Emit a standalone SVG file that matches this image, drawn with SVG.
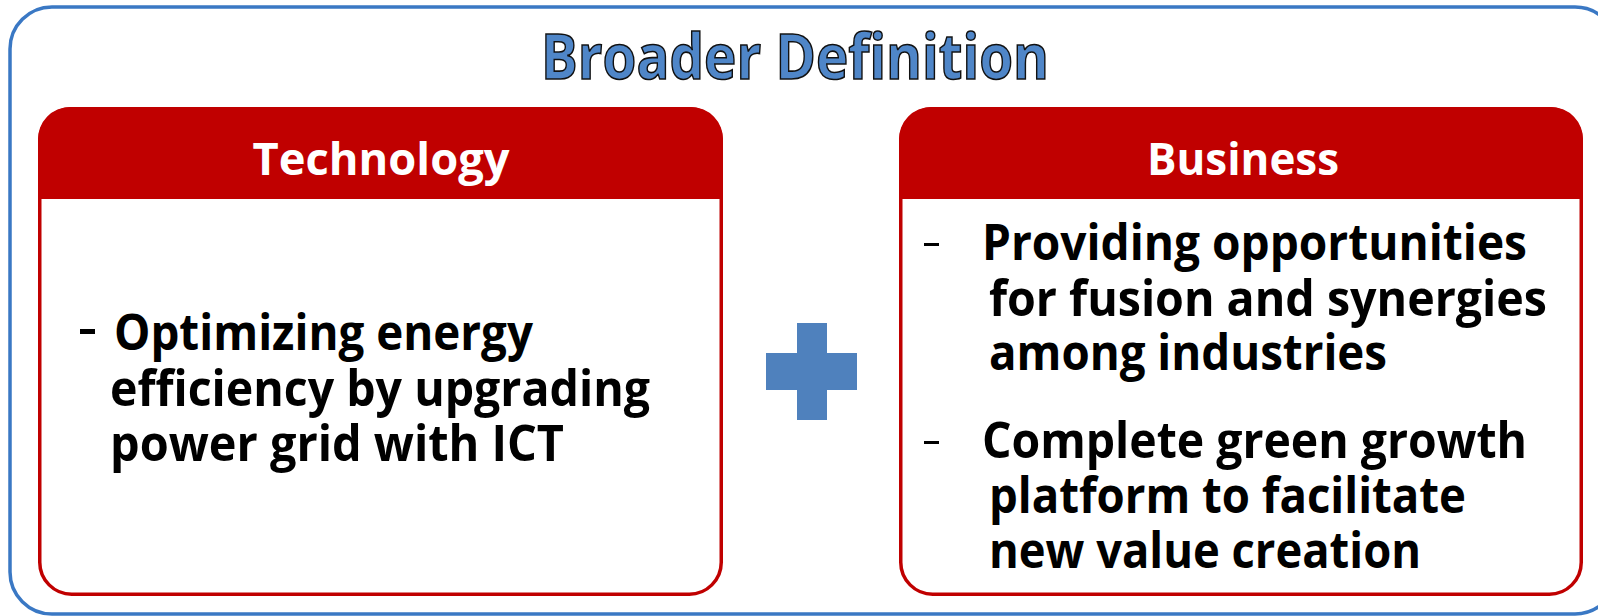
<svg xmlns="http://www.w3.org/2000/svg" width="1598" height="616" viewBox="0 0 1598 616">
<style>
.outer{fill:#ffffff;stroke:#3a78c4;stroke-width:3.5}
.box{fill:#ffffff;stroke:#c00000;stroke-width:3.5}
.hdr{fill:#c00000}
.title{font-family:"Open Sans","Noto Sans",sans-serif;font-weight:bold;font-size:62px;fill:#4f86c8;stroke:#111111;stroke-width:1.6;text-anchor:middle}
.htxt{font-family:"Open Sans","Noto Sans",sans-serif;font-weight:bold;font-size:44px;fill:#ffffff;text-anchor:middle}
.body{font-family:"Open Sans","Noto Sans",sans-serif;font-weight:bold;font-size:50px;fill:#000000}
.plus{fill:#4f81bd}
</style>
<g id="frame">
<rect class="outer" x="10" y="7" width="1607" height="607" rx="42" ry="42"/>
<text class="title" x="795" y="79" textLength="508" lengthAdjust="spacingAndGlyphs">Broader Definition</text>
</g>
<g id="technology">
<rect class="box" x="39.75" y="108.75" width="681.5" height="485.5" rx="32" ry="32"/>
<path class="hdr" d="M38,199 V140 A32,32 0 0 1 70,107 H691 A32,32 0 0 1 723,140 V199 Z"/>
<text class="htxt" x="381" y="175" textLength="257" lengthAdjust="spacingAndGlyphs">Technology</text>
<rect x="80" y="329" width="15" height="5" fill="#000000"/>
<text class="body" x="114" y="350" textLength="419" lengthAdjust="spacingAndGlyphs">Optimizing energy</text>
<text class="body" x="110" y="406" textLength="540" lengthAdjust="spacingAndGlyphs">efficiency by upgrading</text>
<text class="body" x="110" y="461" textLength="454" lengthAdjust="spacingAndGlyphs">power grid with ICT</text>
</g>
<g id="plus">
<rect class="plus" x="797" y="323" width="30" height="97"/>
<rect class="plus" x="766" y="353" width="91" height="37"/>
</g>
<g id="business">
<rect class="box" x="900.75" y="108.75" width="680.5" height="485.5" rx="32" ry="32"/>
<path class="hdr" d="M899,199 V140 A32,32 0 0 1 931,107 H1551 A32,32 0 0 1 1583,140 V199 Z"/>
<text class="htxt" x="1243" y="175" textLength="192" lengthAdjust="spacingAndGlyphs">Business</text>
<rect x="924" y="243" width="15" height="3" fill="#000000"/>
<text class="body" x="982" y="260" textLength="545" lengthAdjust="spacingAndGlyphs">Providing opportunities</text>
<text class="body" x="989" y="316" textLength="558" lengthAdjust="spacingAndGlyphs">for fusion and synergies</text>
<text class="body" x="989" y="370" textLength="398" lengthAdjust="spacingAndGlyphs">among industries</text>
<rect x="924" y="441" width="15" height="3" fill="#000000"/>
<text class="body" x="982" y="458" textLength="545" lengthAdjust="spacingAndGlyphs">Complete green growth</text>
<text class="body" x="989" y="513" textLength="477" lengthAdjust="spacingAndGlyphs">platform to facilitate</text>
<text class="body" x="989" y="568" textLength="432" lengthAdjust="spacingAndGlyphs">new value creation</text>
</g>
</svg>
